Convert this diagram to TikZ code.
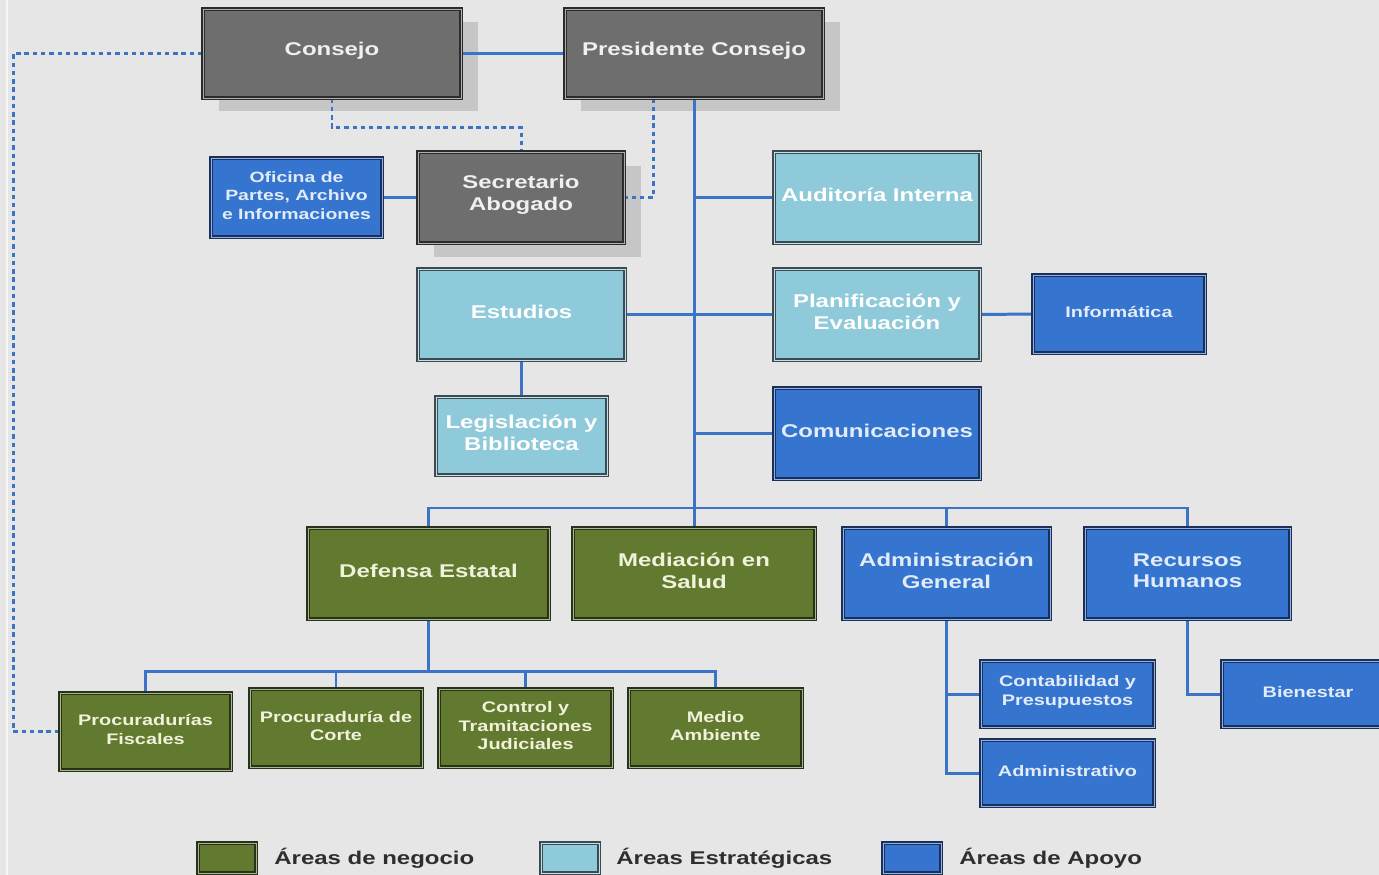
\documentclass[tikz,border=0pt]{standalone}
\usepackage{fontspec}
\setmainfont{Liberation Sans}
\newfontfamily\strfont[FakeStretch=1.3]{Liberation Sans}
\usetikzlibrary{fit}
\definecolor{bgc}{HTML}{E6E6E6}
\definecolor{shc}{HTML}{C6C6C6}
\definecolor{cgray}{HTML}{6E6E6E}
\definecolor{dgray}{HTML}{2B2B2B}
\definecolor{tgray}{HTML}{F0F0F0}
\definecolor{clight}{HTML}{8ECAD9}
\definecolor{dlight}{HTML}{3D4A4F}
\definecolor{cblue}{HTML}{3574CF}
\definecolor{dblue}{HTML}{1B2F58}
\definecolor{tblue}{HTML}{E2ECF8}
\definecolor{cgreen}{HTML}{627A2F}
\definecolor{dgreen}{HTML}{28311A}
\definecolor{tgreen}{HTML}{F0F2DC}
\definecolor{linec}{HTML}{3B74C6}
\definecolor{legc}{HTML}{2E2E2E}
\pgfdeclarelayer{back}
\pgfdeclarelayer{lines}
\pgfsetlayers{back,lines,main}
\tikzset{
  box/.style={inner sep=0pt, line width=0.8pt, double distance=0.45pt},
  graybox/.style={box, fill=cgray, draw=dgray, double=cgray!55!white},
  lightbox/.style={box, fill=clight, draw=dlight, double=clight!55!white},
  bluebox/.style={box, fill=cblue, draw=dblue, double=cblue!55!white},
  greenbox/.style={box, fill=cgreen, draw=dgreen, double=cgreen!55!white},
  bigtxt/.style={inner sep=0pt, align=center, yshift=1.6pt,
    font=\strfont\bfseries\fontsize{10.5}{12.4}\selectfont},
  smalltxt/.style={inner sep=0pt, align=center, yshift=1.2pt,
    font=\strfont\bfseries\fontsize{8.7}{10.5}\selectfont},
  conn/.style={draw=linec, line width=1.7pt},
  dots/.style={draw=linec, line width=1.7pt, dash pattern=on 2.5pt off 2.2pt},
  legtext/.style={anchor=west, text=legc, inner sep=0pt,
    font=\strfont\bfseries\fontsize{10.5}{12.6}\selectfont}
}
\begin{document}
\begin{tikzpicture}[x=0.02cm, y=-0.02cm]
\useasboundingbox (0,0) rectangle (1379,875);
\begin{pgfonlayer}{back}
  \fill[bgc] (0,0) rectangle (1379,875);
  \draw[white, line width=1.2pt, opacity=0.7] (7,0) -- (7,875);
  \fill[shc] (219,22) rectangle (478,111);
  \fill[shc] (581,22) rectangle (840,111);
  \fill[shc] (434,166) rectangle (641,257);
\end{pgfonlayer}

% boxes
\node[graybox, fit={(203,9)(461,98)}] (cons) {};
\node[graybox, fit={(565,9)(823,98)}] (pres) {};
\node[graybox, fit={(418,152)(624,243)}] (sec) {};
\node[bluebox, fit={(211,158)(382,237)}] (ofi) {};
\node[lightbox, fit={(774,152)(980,243)}] (aud) {};
\node[lightbox, fit={(418,269)(625,360)}] (est) {};
\node[lightbox, fit={(774,269)(980,360)}] (plan) {};
\node[bluebox, fit={(1033,275)(1205,353)}] (inf) {};
\node[lightbox, fit={(436,397)(607,475)}] (leg) {};
\node[bluebox, fit={(774,388)(980,479)}] (com) {};
\node[greenbox, fit={(308,528)(549,619)}] (def) {};
\node[greenbox, fit={(573,528)(815,619)}] (med) {};
\node[bluebox, fit={(843,528)(1050,619)}] (adm) {};
\node[bluebox, fit={(1085,528)(1290,619)}] (rh) {};
\node[greenbox, fit={(60,693)(231,770)}] (pf) {};
\node[greenbox, fit={(250,689)(422,767)}] (pc) {};
\node[greenbox, fit={(439,689)(612,767)}] (ct) {};
\node[greenbox, fit={(629,689)(802,767)}] (ma) {};
\node[bluebox, fit={(981,661)(1154,727)}] (cont) {};
\node[bluebox, fit={(981,740)(1154,806)}] (admv) {};
\node[bluebox, fit={(1222,661)(1394,727)}] (bien) {};

% box texts
\node[bigtxt, text=tgray] (tcons) at (cons.center) {Consejo};
\node[bigtxt, text=tgray] (tpres) at (pres.center) {Presidente Consejo};
\node[bigtxt, text=tgray] (tsec) at (sec.center) {Secretario\\Abogado};
\node[smalltxt, text=tblue, font=\strfont\bfseries\fontsize{8.5}{10.4}\selectfont] (tofi) at (ofi.center) {Oficina de\\Partes, Archivo\\e Informaciones};
\node[bigtxt, text=white] (taud) at (aud.center) {Auditoría Interna};
\node[bigtxt, text=white] (test) at (est.center) {Estudios};
\node[bigtxt, text=white] (tplan) at (plan.center) {Planificación y\\Evaluación};
\node[smalltxt, text=tblue] (tinf) at (inf.center) {Informática};
\node[bigtxt, text=white] (tleg) at (leg.center) {Legislación y\\Biblioteca};
\node[bigtxt, text=tblue] (tcom) at (com.center) {Comunicaciones};
\node[bigtxt, text=tgreen] (tdef) at (def.center) {Defensa Estatal};
\node[bigtxt, text=tgreen] (tmed) at (med.center) {Mediación en\\Salud};
\node[bigtxt, text=tblue] (tadm) at (adm.center) {Administración\\General};
\node[bigtxt, text=tblue] (trh) at (rh.center) {Recursos\\Humanos};
\node[smalltxt, text=tgreen] (tpf) at (pf.center) {Procuradurías\\Fiscales};
\node[smalltxt, text=tgreen] (tpc) at (pc.center) {Procuraduría de\\Corte};
\node[smalltxt, text=tgreen] (tct) at (ct.center) {Control y\\Tramitaciones\\Judiciales};
\node[smalltxt, text=tgreen] (tma) at (ma.center) {Medio\\Ambiente};
\node[smalltxt, text=tblue] (tcont) at (cont.center) {Contabilidad y\\Presupuestos};
\node[smalltxt, text=tblue] (tadmv) at (admv.center) {Administrativo};
\node[smalltxt, text=tblue] (tbien) at (bien.center) {Bienestar};

% legend
\node[greenbox, fit={(198,843)(256,873)}] (lg1) {};
\node[legtext] (lt1) at (274,858) {Áreas de negocio};
\node[lightbox, fit={(541,843)(599,873)}] (lg2) {};
\node[legtext] (lt2) at (616,858) {Áreas Estratégicas};
\node[bluebox, fit={(883,843)(941,873)}] (lg3) {};
\node[legtext] (lt3) at (959,858) {Áreas de Apoyo};

\coordinate (bus) at (694,508);

\begin{pgfonlayer}{lines}
  \draw[conn] (cons.east) -- (pres.west);
  \draw[conn] (pres.south) -- (bus);
  \draw[conn] (pres.south) |- (aud.west);
  \draw[conn] (pres.south) |- (plan.west);
  \draw[conn] (pres.south) |- (est.east);
  \draw[conn] (pres.south) |- (com.west);
  \draw[conn] (bus) -| (def.north);
  \draw[conn] (bus) -| (med.north);
  \draw[conn] (bus) -| (adm.north);
  \draw[conn] (bus) -| (rh.north);
  \draw[conn] (plan.east) -- (inf.west);
  \draw[conn] (est.south) -- (leg.north);
  \draw[conn] (ofi.east) -- (sec.west);
  \draw[conn] (def.south) -- ++(0,52) coordinate (dbus);
  \draw[conn] (dbus) -| (pf.north);
  \draw[conn] (dbus) -| (pc.north);
  \draw[conn] (dbus) -| (ct.north);
  \draw[conn] (dbus) -| (ma.north);
  \draw[conn] (adm.south) |- (cont.west);
  \draw[conn] (adm.south) |- (admv.west);
  \draw[conn] (rh.south) |- (bien.west);
  \draw[dots] (cons.south) -- ++(0,29) -| (sec.north);
  \draw[dots] ([xshift=-0.82cm]pres.south) |- (sec.east);
  \draw[dots] (cons.west) -- ++(-189,0) |- (pf.west);
\end{pgfonlayer}
\end{tikzpicture}
\end{document}
